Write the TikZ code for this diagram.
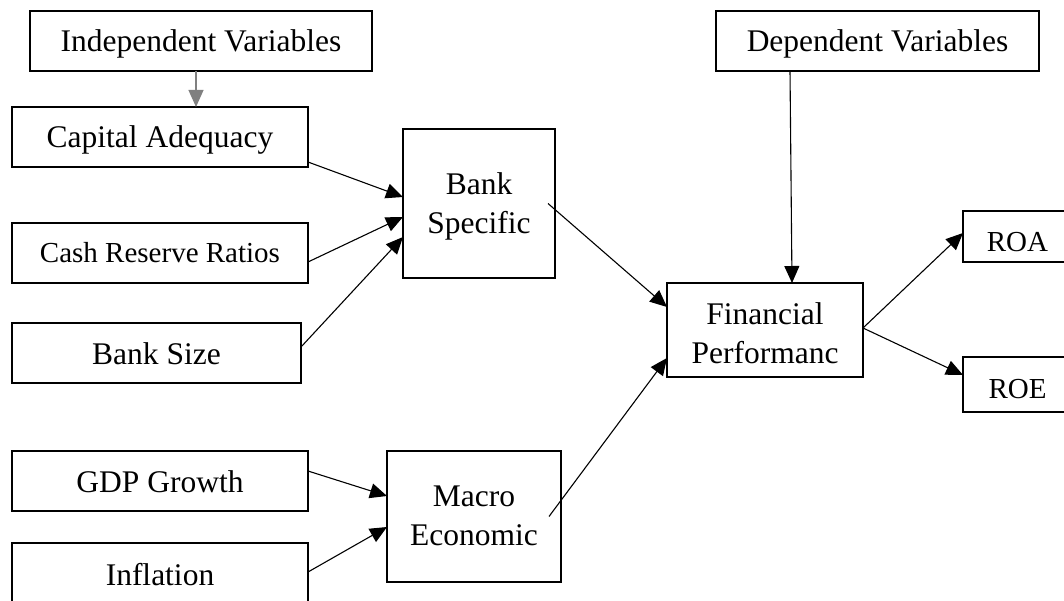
\documentclass[tikz,border=0pt]{standalone}
\usepackage{fontspec}
\setmainfont{Liberation Serif}
\usetikzlibrary{arrows.meta}
\begin{document}
\begin{tikzpicture}[x=1pt,y=-1pt,
  box/.style={draw, line width=2pt, inner sep=0pt, outer sep=0pt,
    font=\fontsize{31.5}{39}\selectfont, text height=22pt, text depth=0pt},
  smallbox/.style={box, font=\fontsize{29}{36}\selectfont, text height=20pt},
  twobox/.style={box, align=center, text height=60pt},
  conn/.style={line width=1.1pt, -{Triangle[length=17pt,width=15pt]}},
]
\useasboundingbox (0,0) rectangle (1064,601);
\node[box, minimum width=342pt, minimum height=60pt] (ind) at (201,41) {Independent Variables};
\node[box, minimum width=296pt, minimum height=60pt] (cap) at (160,137) {Capital Adequacy};
\node[smallbox, minimum width=296pt, minimum height=60pt] (cash) at (160,253) {Cash Reserve Ratios};
\node[box, minimum width=289pt, minimum height=60pt] (size) at (156.5,353) {Bank Size};
\node[box, minimum width=296pt, minimum height=60pt] (gdp) at (160,481) {GDP Growth};
\node[box, minimum width=296pt, minimum height=62pt] (infl) at (160,574) {Inflation};
\node[twobox, minimum width=152pt, minimum height=149pt] (bs) at (479,203.5) {Bank\\Specific};
\node[twobox, minimum width=174pt, minimum height=131pt, text height=58pt] (mac) at (474,516.5) {Macro\\Economic};
\node[box, minimum width=323pt, minimum height=60pt] (dep) at (877.5,41) {Dependent Variables};
\node[twobox, minimum width=196pt, minimum height=94pt, text height=66pt] (fin) at (765,330) {Financial\\Performanc};
\node[smallbox, minimum width=109pt, minimum height=51pt, text height=30pt] (roa) at (1017.5,236.5) {ROA};
\node[smallbox, minimum width=109pt, minimum height=55pt, text height=28pt] (roe) at (1017.5,384.5) {ROE};

\draw[conn, draw=gray] ([xshift=-5pt]ind.south) -- ([xshift=-5pt]ind.south |- cap.north);
\draw[conn] ([yshift=5pt]cap.south east) -- ([yshift=6.5pt]bs.west);
\draw[conn] ([yshift=-9pt]cash.east) -- ([yshift=-13.5pt]bs.west);
\draw[conn] ([yshift=6pt]size.east) -- ([yshift=-33.5pt]bs.west);
\draw[conn] ([xshift=-7pt]bs.east) -- ([yshift=23pt]fin.west);
\draw[conn] ([xshift=-12pt]mac.east) -- ([yshift=-28pt]fin.west);
\draw[conn] ([yshift=10pt]gdp.east) -- ([yshift=20.5pt]mac.west);
\draw[conn] ([yshift=2pt]infl.east) -- ([yshift=-10.5pt]mac.west);
\draw[conn] ([xshift=-87.5pt]dep.south) -- ([xshift=27pt]fin.north);
\draw[conn] ([yshift=2pt]fin.east) -- ([yshift=3.5pt]roa.west);
\draw[conn] ([yshift=2pt]fin.east) -- ([yshift=9.5pt]roe.west);
\end{tikzpicture}
\end{document}
